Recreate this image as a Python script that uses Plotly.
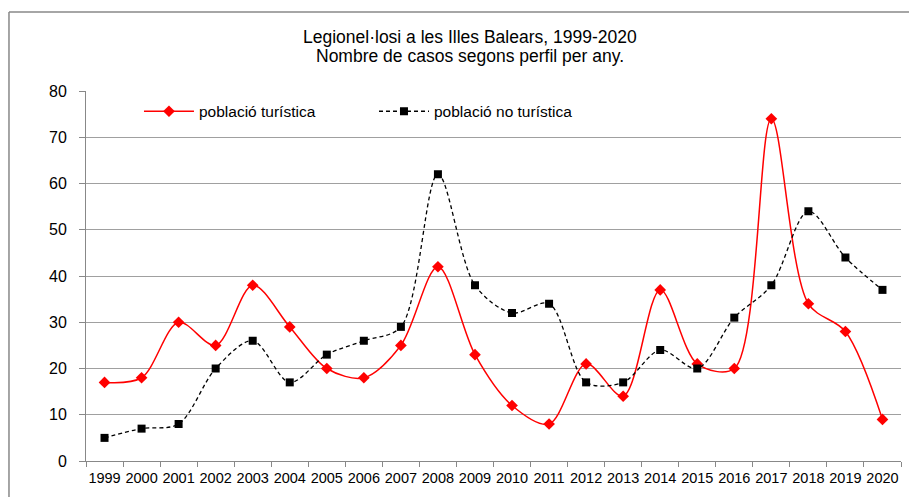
import plotly.graph_objects as go

years = [str(y) for y in range(1999, 2021)]
turistica = [17, 18, 30, 25, 38, 29, 20, 18, 25, 42, 23, 12, 8, 21, 14, 37, 21, 20, 74, 34, 28, 9]
no_turistica = [5, 7, 8, 20, 26, 17, 23, 26, 29, 62, 38, 32, 34, 17, 17, 24, 20, 31, 38, 54, 44, 37]
y_ticks = [0, 10, 20, 30, 40, 50, 60, 70, 80]
title_lines = ["Legionel·losi a les Illes Balears, 1999-2020",
               "Nombre de casos segons perfil per any."]

FONT = "Liberation Sans, Arial, sans-serif"

fig = go.Figure()
fig.add_trace(go.Scatter(
    x=years, y=turistica, name="població turística", mode="lines+markers",
    line=dict(color="#ff0000", width=1.5, shape="spline", smoothing=0.9),
    marker=dict(symbol="diamond", size=9, color="#ff0000"),
))
fig.add_trace(go.Scatter(
    x=years, y=no_turistica, name="població no turística", mode="lines+markers",
    line=dict(color="#000000", width=1.3, dash="4px,3px", shape="spline", smoothing=0.9),
    marker=dict(symbol="square", size=8, color="#000000"),
))

fig.update_layout(
    width=917, height=497,
    margin=dict(l=78, r=24, t=83, b=44),
    paper_bgcolor="white", plot_bgcolor="white",
    font=dict(family=FONT, size=14, color="#000000"),
    legend=dict(
        orientation="h", x=0.065, y=0.99, xanchor="left", yanchor="top",
        bgcolor="rgba(0,0,0,0)", font=dict(family=FONT, size=15.5),
        entrywidth=170, itemwidth=50,
    ),
    showlegend=True,
)
for txt, yy in zip(title_lines, [1.146, 1.0946]):
    fig.add_annotation(text=txt, xref="paper", yref="paper", x=0.471, y=yy,
                       xanchor="center", yanchor="middle", showarrow=False,
                       font=dict(family=FONT, size=17.5, color="#000000"))

fig.update_xaxes(
    type="category", showgrid=False, showline=True, linecolor="#888888", linewidth=1,
    ticks="outside", tickson="boundaries", ticklen=5, tickcolor="#888888",
    tickfont=dict(family=FONT, size=14.5), tickangle=0, range=[-0.5, 21.5],
    automargin=False, ticklabelstandoff=4,
)
fig.update_yaxes(
    range=[0, 80], tickvals=y_ticks, showgrid=True, gridcolor="#a0a0a0", gridwidth=1,
    showline=True, linecolor="#888888", linewidth=1, ticks="outside", ticklen=6,
    tickcolor="#888888", tickfont=dict(family=FONT, size=16), zeroline=False,
    automargin=False, ticklabelstandoff=9,
)

# outer chart frame (top and left edges; the rest is outside the visible area)
frame_line = dict(color="#888888", width=1.5)
fig.add_shape(type="line", xref="paper", yref="paper",
              x0=-0.0945, x1=1.3, y0=1.2135, y1=1.2135, line=frame_line, layer="below")
fig.add_shape(type="line", xref="paper", yref="paper",
              x0=-0.0945, x1=-0.0945, y0=-0.4, y1=1.2135, line=frame_line, layer="below")

fig.write_html("out.html")
